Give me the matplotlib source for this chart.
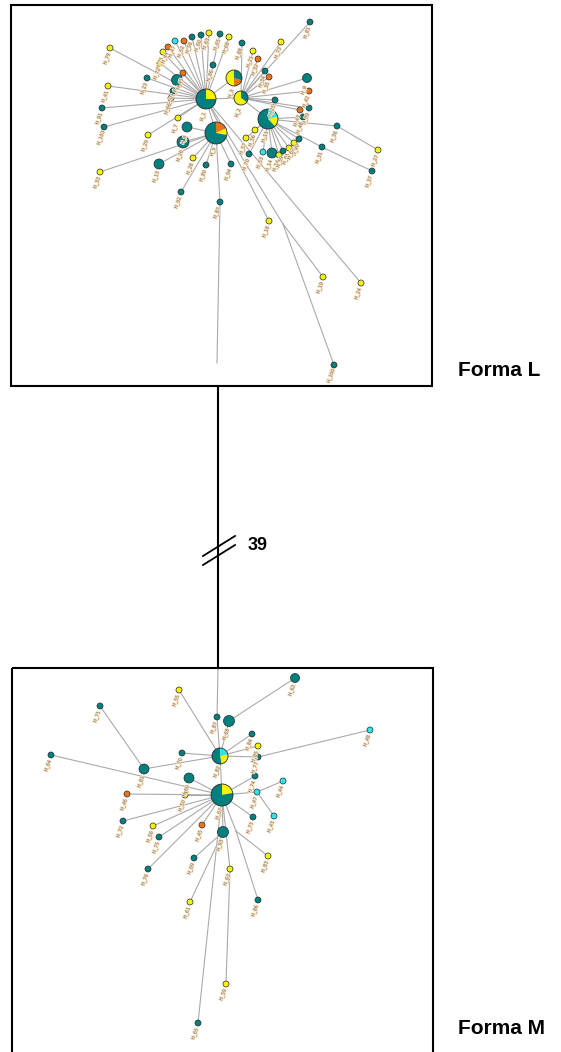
import matplotlib
matplotlib.use("Agg")
import matplotlib.pyplot as plt
import matplotlib.patheffects as pe
from matplotlib.patches import Circle, Wedge, Rectangle

W, H = 561, 1052
COLORS = {"t": "#007f7f", "y": "#f4f400", "o": "#e8741a", "c": "#30e4ec"}

# --- Forma L network (pixel layout) ---
top_names = ["H_1", "H_2", "H_3", "H_11", "H_5",
             "H_79", "H_41", "H_91", "H_103", "H_23", "H_6", "H_45", "H_50", "H_66",
             "H_71", "H_72", "H_44", "H_47", "H_52", "H_58", "H_60", "H_63", "H_65",
             "H_86", "H_68", "H_88", "H_21", "H_32", "H_34", "H_35", "H_73", "H_81",
             "H_9", "H_42", "H_25", "H_39", "H_43", "H_48", "H_36", "H_27", "H_31",
             "H_37", "H_40", "H_56", "H_57", "H_70", "H_53", "H_14", "H_54", "H_59",
             "H_61", "H_62", "H_94", "H_80", "H_28", "H_13", "H_26", "H_8", "H_7",
             "H_29", "H_33", "H_92", "H_87", "H_18", "H_19", "H_24", "H_100"]
top_x = [206, 241, 234, 268, 216,
         110, 108, 102, 104, 147, 177, 183, 173, 171,
         163, 160, 168, 175, 184, 192, 201, 209, 220,
         213, 229, 242, 253, 258, 265, 269, 281, 310,
         307, 309, 275, 309, 300, 303, 337, 378, 322,
         372, 299, 255, 246, 249, 263, 272, 279, 283,
         289, 294, 231, 206, 193, 159, 183, 187, 178,
         148, 100, 181, 220, 269, 323, 361, 334]
top_y = [99, 98, 78, 119, 133,
         48, 86, 108, 127, 78, 80, 73, 91, 98,
         52, 63, 47, 41, 41, 37, 35, 33, 34,
         65, 37, 43, 51, 59, 71, 77, 42, 22,
         78, 91, 100, 108, 110, 117, 126, 150, 147,
         171, 139, 130, 138, 154, 152, 153, 155, 151,
         148, 143, 164, 165, 158, 164, 142, 127, 118,
         135, 172, 192, 202, 221, 277, 283, 365]
top_r = [10, 7, 8, 10, 11,
         3, 3, 3, 3, 3, 5.5, 3, 3, 3,
         3, 3, 3, 3, 3, 3, 3, 3, 3,
         3, 3, 3, 3, 3, 3, 3, 3, 3,
         4.5, 3, 3, 3, 3, 3, 3, 3, 3,
         3, 3, 3, 3, 3, 3, 5, 3, 3,
         3, 3, 3, 3, 3, 5, 6, 5, 3,
         3, 3, 3, 3, 3, 3, 3, 3]
top_col = ["", "", "", "", "",
           "y", "y", "t", "t", "t", "t", "o", "t", "t",
           "y", "y", "o", "c", "o", "t", "t", "y", "t",
           "t", "y", "t", "y", "o", "t", "o", "y", "t",
           "t", "o", "t", "t", "o", "t", "t", "y", "t",
           "t", "t", "y", "y", "t", "c", "t", "y", "t",
           "y", "y", "t", "t", "y", "t", "t", "t", "y",
           "y", "y", "t", "t", "y", "y", "y", "t"]
top_pies = {"H_1": [("y", 0.25), ("t", 0.75)],
            "H_2": [("t", 0.35), ("y", 0.65)],
            "H_3": [("t", 0.30), ("o", 0.20), ("y", 0.50)],
            "H_11": [("c", 0.22), ("y", 0.16), ("t", 0.62)],
            "H_5": [("o", 0.18), ("y", 0.10), ("t", 0.72)]}
# junction points without a haplotype
top_joints = {"mv1": (283, 224), "mv2": (217, 363)}
top_edges = [("H_1", n) for n in ["H_79", "H_41", "H_91", "H_103", "H_23", "H_6", "H_45",
                                  "H_50", "H_66", "H_71", "H_72", "H_44", "H_47", "H_52",
                                  "H_58", "H_60", "H_63", "H_86", "H_68", "H_7", "H_29",
                                  "H_2", "H_5", "H_3", "H_18", "mv1", "H_24"]]
top_edges += [("H_86", "H_65")]
top_edges += [("H_2", n) for n in ["H_88", "H_21", "H_32", "H_34", "H_35", "H_73", "H_81",
                                   "H_9", "H_42", "H_25", "H_39", "H_43", "H_11"]]
top_edges += [("H_11", n) for n in ["H_48", "H_40", "H_36", "H_31", "H_56", "H_57", "H_70",
                                    "H_53", "H_14", "H_54", "H_59", "H_61", "H_62"]]
top_edges += [("H_36", "H_27"), ("H_31", "H_37")]
top_edges += [("H_5", n) for n in ["H_8", "H_26", "H_13", "H_28", "H_80", "H_94", "H_92",
                                   "H_87", "H_33"]]
top_edges += [("H_87", "mv2"), ("mv1", "H_19"), ("mv1", "H_100")]

# --- Forma M network (pixel layout) ---
bot_names = ["H_82", "H_67", "H_62", "H_55", "H_71", "H_87", "H_68", "H_84", "H_85",
             "H_77", "H_48", "H_70", "H_81", "H_64", "H_60", "H_50", "H_46", "H_74",
             "H_47", "H_44", "H_43", "H_73", "H_72", "H_56", "H_75", "H_45", "H_93",
             "H_83", "H_69", "H_63", "H_76", "H_61", "H_86", "H_59", "H_65"]
bot_x = [220, 222, 295, 179, 100, 217, 229, 252, 258,
         258, 370, 182, 144, 51, 189, 185, 127, 255,
         257, 283, 274, 253, 123, 153, 159, 202, 223,
         268, 194, 230, 148, 190, 258, 226, 198]
bot_y = [756, 795, 678, 690, 706, 717, 721, 734, 746,
         757, 730, 753, 769, 755, 778, 795, 794, 776,
         792, 781, 816, 817, 821, 826, 837, 825, 832,
         856, 858, 869, 869, 902, 900, 984, 1023]
bot_r = [8, 11, 4.5, 3, 3, 3, 5.5, 3, 3,
         3, 3, 3, 5, 3, 5, 3, 3, 3,
         3, 3, 3, 3, 3, 3, 3, 3, 5.5,
         3, 3, 3, 3, 3, 3, 3, 3]
bot_col = ["", "", "t", "y", "t", "t", "t", "t", "y",
           "t", "c", "t", "t", "t", "t", "y", "o", "t",
           "c", "c", "c", "t", "t", "y", "t", "o", "t",
           "y", "t", "y", "t", "y", "t", "y", "t"]
bot_pies = {"H_82": [("c", 0.22), ("y", 0.25), ("t", 0.53)],
            "H_67": [("y", 0.22), ("t", 0.78)]}
bot_joints = {"bmv": (236, 831), "btop": (218, 668)}
bot_edges = [("btop", "H_87"), ("H_87", "H_82"), ("H_62", "H_68"), ("H_68", "H_82"),
             ("H_55", "H_82"), ("H_84", "H_82"), ("H_85", "H_82"), ("H_77", "H_82"),
             ("H_77", "H_48"), ("H_70", "H_82"), ("H_71", "H_81"), ("H_81", "H_82"),
             ("H_82", "H_67"), ("H_47", "H_44"), ("H_47", "H_43"), ("H_93", "H_69"),
             ("H_93", "H_61"), ("H_67", "bmv"), ("bmv", "H_83"), ("bmv", "H_86"),
             ("H_63", "H_59")]
bot_edges += [("H_67", n) for n in ["H_64", "H_60", "H_50", "H_46", "H_74", "H_47", "H_73",
                                    "H_72", "H_56", "H_75", "H_45", "H_93", "H_63", "H_65",
                                    "H_76"]]


def draw_network(ax, names, xs, ys, rs, cols, pies, joints, edges):
    pos = {n: (x, y) for n, x, y in zip(names, xs, ys)}
    pos.update(joints)
    for a, b in edges:
        (x1, y1), (x2, y2) = pos[a], pos[b]
        ax.plot([x1, x2], [y1, y2], color="#aaaaaa", lw=0.8, zorder=1)
    for n, x, y, r, c in zip(names, xs, ys, rs, cols):
        if n in pies:
            # y axis is inverted, so visual clockwise angles are mirrored
            start = 90.0
            for key, frac in pies[n]:
                ax.add_patch(Wedge((x, y), r, -start, -start + 360 * frac,
                                   facecolor=COLORS[key], lw=0, zorder=3))
                start -= 360 * frac
            ax.add_patch(Circle((x, y), r, facecolor="none", edgecolor="#2a2a2a",
                                lw=0.6, zorder=4))
        else:
            ax.add_patch(Circle((x, y), r, facecolor=COLORS[c], edgecolor="#2a2a2a",
                                lw=0.5, zorder=3))
        ax.text(x - 3, y + r + 8, n, fontsize=3.4, rotation=70, color="#6a6a6a",
                ha="center", va="center", zorder=5,
                path_effects=[pe.withStroke(linewidth=1.2, foreground="#fde2bf")])


fig = plt.figure(figsize=(W / 100, H / 100), dpi=100)
ax = fig.add_axes([0, 0, 1, 1])
ax.set_xlim(0, W)
ax.set_ylim(H, 0)
ax.axis("off")

# frames and the long connection between the two groups
ax.add_patch(Rectangle((11, 5), 421, 381, fill=False, edgecolor="black", lw=1.5, zorder=6))
ax.add_patch(Rectangle((12, 668), 421, 400, fill=False, edgecolor="black", lw=1.5,
                       zorder=6, clip_on=True))
ax.plot([218, 218], [386, 668], color="black", lw=1.5, zorder=6)
for dy in (0, 9):
    ax.plot([203, 235], [556 + dy, 536 + dy], color="black", lw=1.3, zorder=6)
ax.text(248, 545, "39", fontsize=13, fontweight="bold", family="Liberation Sans",
        ha="left", va="center")

ax.text(458, 370, "Forma L", fontsize=15, fontweight="bold", family="Liberation Sans",
        ha="left", va="center")
ax.text(458, 1028, "Forma M", fontsize=15, fontweight="bold", family="Liberation Sans",
        ha="left", va="center")

draw_network(ax, top_names, top_x, top_y, top_r, top_col, top_pies, top_joints, top_edges)
draw_network(ax, bot_names, bot_x, bot_y, bot_r, bot_col, bot_pies, bot_joints, bot_edges)

fig.savefig("out.png", dpi=100)
